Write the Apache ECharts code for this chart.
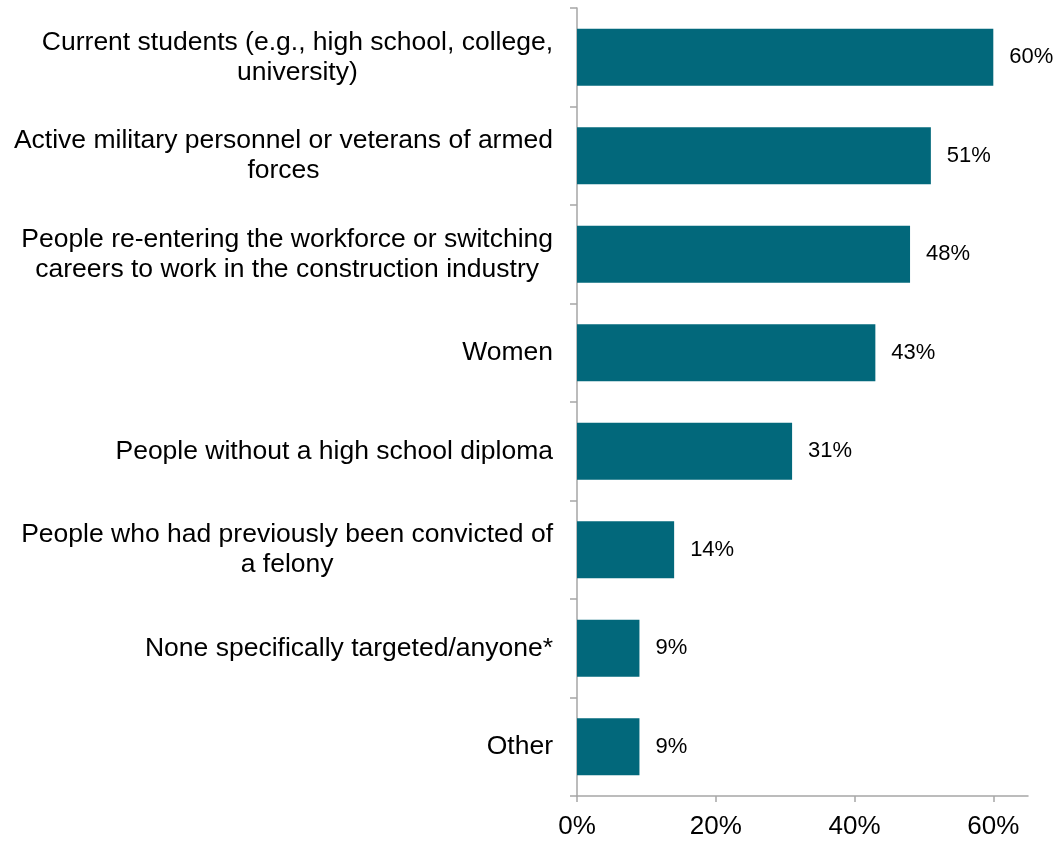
<!DOCTYPE html>
<html>
<head>
<meta charset="utf-8">
<title>Targeted groups</title>
<script src="https://cdn.jsdelivr.net/npm/echarts@6/dist/echarts.min.js"></script>
<style>
  html, body { margin: 0; padding: 0; background: #ffffff; }
  #chart { width: 1061px; height: 841px; }
</style>
</head>
<body>
<div id="chart"></div>
<script>
// Groups, top to bottom
const categories = [
  'Current students (e.g., high school, college,\nuniversity)',
  'Active military personnel or veterans of armed\nforces',
  'People re-entering the workforce or switching\ncareers to work in the construction industry',
  'Women',
  'People without a high school diploma',
  'People who had previously been convicted of\na felony',
  'None specifically targeted/anyone*',
  'Other'
];
// Share of respondents, percent
const values = [60, 51, 48, 43, 31, 14, 9, 9];
// Value-axis ticks, percent
const tickValues = [0, 20, 40, 60];

const FONT = '"Liberation Sans", Arial, Helvetica, sans-serif';
const AXIS_GREY = '#a6a6a6';

const chart = echarts.init(document.getElementById('chart'), null, { renderer: 'canvas' });

chart.setOption({
  animation: false,
  backgroundColor: '#ffffff',
  textStyle: { fontFamily: FONT },
  grid: { left: 577, right: 33, top: 8, bottom: 45, containLabel: false },
  xAxis: {
    type: 'value',
    min: 0,
    max: 65,
    splitLine: { show: false },
    axisLine: { show: true, lineStyle: { color: AXIS_GREY, width: 1.5 } },
    axisTick: {
      show: true,
      length: 6,
      customValues: tickValues,
      lineStyle: { color: AXIS_GREY, width: 1.5 }
    },
    axisLabel: {
      customValues: tickValues,
      formatter: v => v + '%',
      color: '#000000',
      fontSize: 26,
      fontFamily: FONT,
      margin: 18
    }
  },
  yAxis: {
    type: 'category',
    data: categories,
    inverse: true,
    axisLine: { show: true, lineStyle: { color: AXIS_GREY, width: 1.5 } },
    axisTick: { show: true, length: 7, lineStyle: { color: AXIS_GREY, width: 1.5 } },
    splitLine: { show: false },
    axisLabel: {
      margin: 24,
      color: '#000000',
      fontFamily: FONT,
      formatter: v => v.split('\n').map(s => '{c|' + s + '}').join('\n'),
      rich: {
        c: { align: 'center', fontSize: 26.5, lineHeight: 30, fontFamily: FONT, color: '#000000' }
      }
    }
  },
  series: [{
    type: 'bar',
    data: values,
    barCategoryGap: '42%',
    itemStyle: { color: '#02687b' },
    label: {
      show: true,
      position: 'right',
      distance: 16,
      formatter: p => p.value + '%',
      color: '#000000',
      fontSize: 22,
      fontFamily: FONT
    }
  }]
});
</script>
</body>
</html>
